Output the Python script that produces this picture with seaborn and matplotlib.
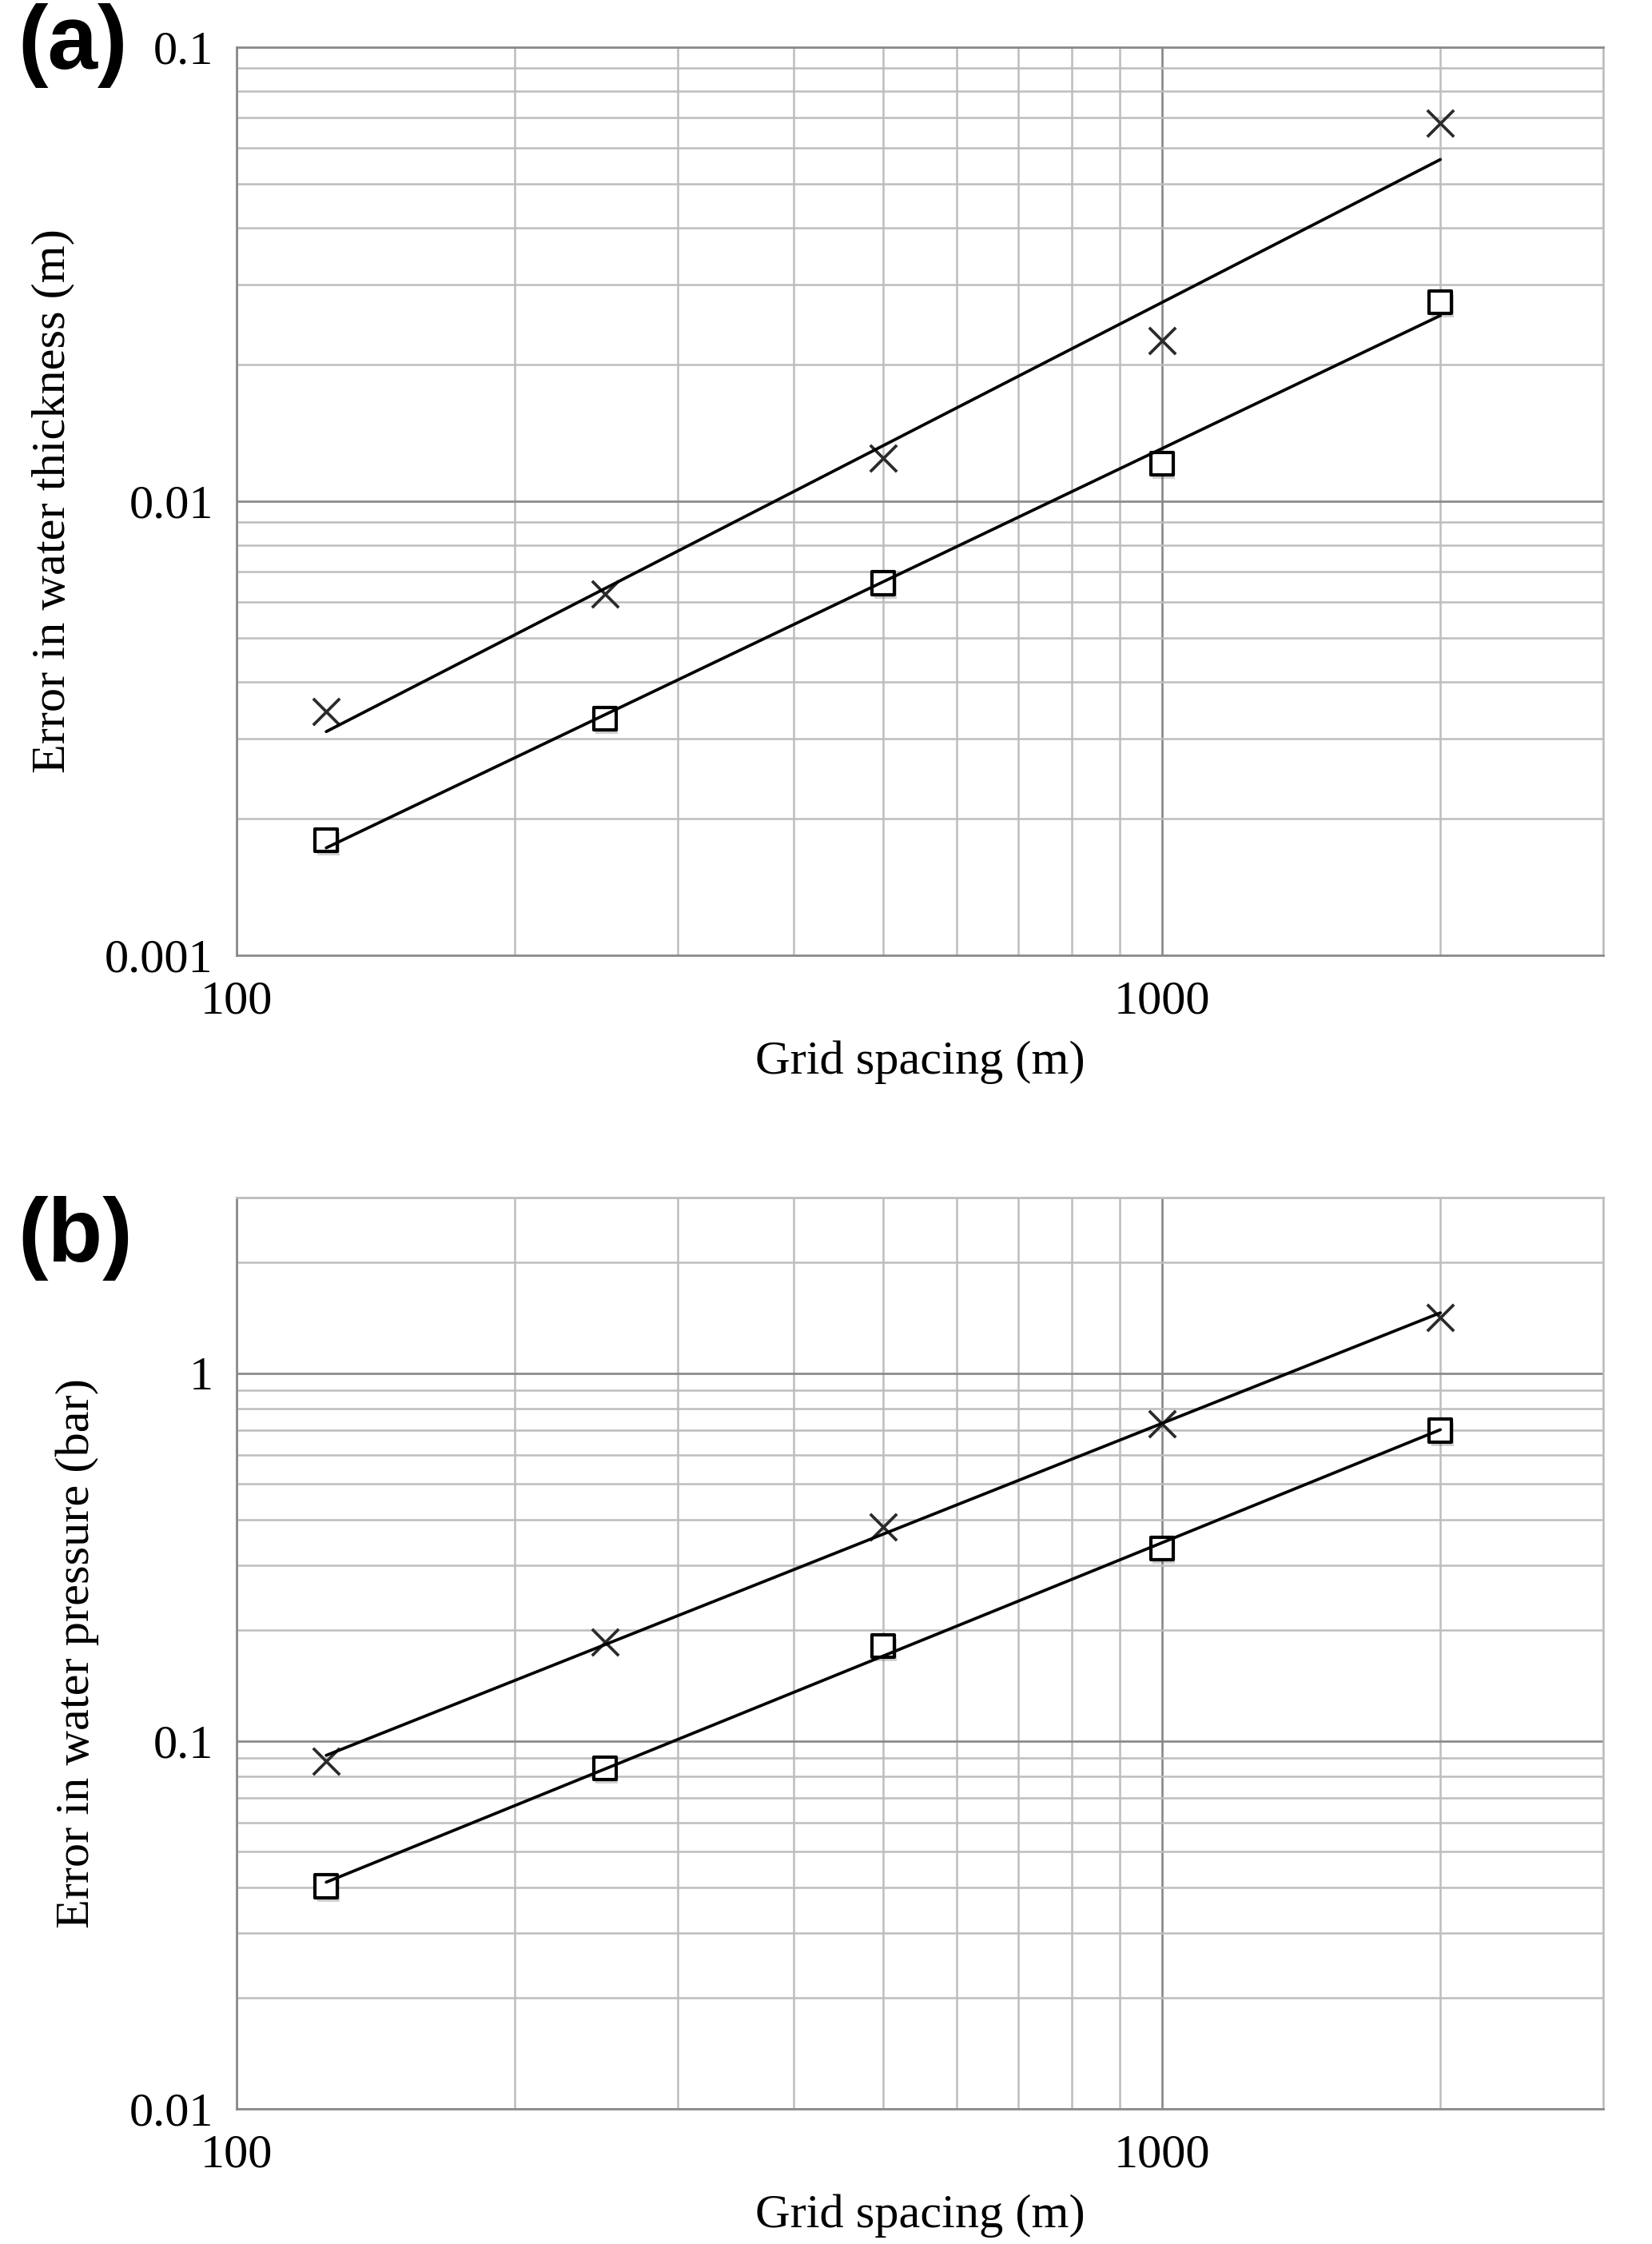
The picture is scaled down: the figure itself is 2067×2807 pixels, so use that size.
import numpy as np
import pandas as pd
import matplotlib
matplotlib.use("Agg")
import matplotlib.pyplot as plt
import matplotlib.patheffects as pe
from matplotlib.ticker import LogLocator, NullFormatter
import seaborn as sns

# grid spacing (m)
grid_spacing = [125, 250, 500, 1000, 2000]

# (a) error in water thickness (m)
thick_cross = [0.00344, 0.00624, 0.01245, 0.02255, 0.0680]
thick_square = [0.00179, 0.00332, 0.00660, 0.01208, 0.0274]

# (b) error in water pressure (bar)
press_cross = [0.0882, 0.186, 0.382, 0.730, 1.42]
press_square = [0.0403, 0.0843, 0.181, 0.334, 0.698]

x_ticks = [100, 1000]
x_tick_labels = ["100", "1000"]
a_y_ticks = [0.001, 0.01, 0.1]
a_y_tick_labels = ["0.001", "0.01", "0.1"]
b_y_ticks = [0.01, 0.1, 1]
b_y_tick_labels = ["0.01", "0.1", "1"]

sns.set_style("white")
plt.rcParams["font.family"] = ["Liberation Serif", "DejaVu Serif"]
plt.rcParams["text.color"] = "black"
plt.rcParams["axes.labelcolor"] = "black"

MAJOR = "#8a8a8a"
MINOR = "#bdbdbd"


def power_fit(x, y):
    # least-squares trendline in log-log space, like the spreadsheet trendline
    k, c = np.polyfit(np.log10(x), np.log10(y), 1)
    return 10 ** (c + k * np.log10(np.asarray(x, dtype=float)))


def panel(ax, cross, square, ylim, yticks, ylabels, ylabel, top_major):
    df = pd.DataFrame({"x": grid_spacing, "cross": cross, "square": square})
    df["cross_fit"] = power_fit(df["x"], df["cross"])
    df["square_fit"] = power_fit(df["x"], df["square"])

    ax.set_xscale("log")
    ax.set_yscale("log")

    sns.scatterplot(data=df, x="x", y="cross", marker="x", s=64,
                    color="#2b2b2b", linewidth=0.9, ax=ax, zorder=3)
    sq = sns.scatterplot(data=df, x="x", y="square", marker="s", s=46,
                         facecolor="white", edgecolor="black", linewidth=1.0,
                         ax=ax, zorder=3)
    sq.collections[-1].set_path_effects(
        [pe.SimplePatchShadow(offset=(0.6, -1.2), alpha=0.25, shadow_rgbFace="0.3"),
         pe.Normal()])
    sns.lineplot(data=df, x="x", y="cross_fit", color="black", lw=0.9,
                 ax=ax, zorder=4)
    sns.lineplot(data=df, x="x", y="square_fit", color="black", lw=0.9,
                 ax=ax, zorder=4)

    ax.set_xlim(100, 3000)
    ax.set_ylim(*ylim)
    ax.set_xticks(x_ticks, x_tick_labels)
    ax.set_yticks(yticks, ylabels)
    ax.xaxis.set_minor_locator(LogLocator(base=10, subs=np.arange(2, 10)))
    ax.yaxis.set_minor_locator(LogLocator(base=10, subs=np.arange(2, 10)))
    ax.xaxis.set_minor_formatter(NullFormatter())
    ax.yaxis.set_minor_formatter(NullFormatter())

    ax.grid(which="major", color=MAJOR, lw=0.65)
    ax.grid(which="minor", color=MINOR, lw=0.6)
    ax.set_axisbelow(True)

    ax.tick_params(which="major", direction="out", length=3.5, width=0.65,
                   color=MAJOR, labelcolor="black", labelsize=14.5, pad=3.5)
    ax.tick_params(which="minor", length=0)
    ax.tick_params(axis="x", which="major", pad=4)

    for s in ["left", "bottom"]:
        ax.spines[s].set_color(MAJOR)
        ax.spines[s].set_linewidth(0.65)
    ax.spines["right"].set_color(MINOR)
    ax.spines["right"].set_linewidth(0.6)
    ax.spines["top"].set_color(MAJOR if top_major else MINOR)
    ax.spines["top"].set_linewidth(0.65)

    ax.set_xlabel("Grid spacing (m)", fontsize=14.5, labelpad=5)
    ax.set_ylabel(ylabel, fontsize=14.5, labelpad=9)


fig = plt.figure(figsize=(2067 / 300, 2807 / 300), dpi=300)
ax_a = fig.add_axes([0.1432, 0.5743, 0.8273, 0.4047])
ax_b = fig.add_axes([0.1432, 0.0602, 0.8273, 0.4061])

panel(ax_a, thick_cross, thick_square, (0.001, 0.1), a_y_ticks, a_y_tick_labels,
      "Error in water thickness (m)", True)
panel(ax_b, press_cross, press_square, (0.01, 3), b_y_ticks, b_y_tick_labels,
      "Error in water pressure (bar)", False)

fig.text(22 / 2067, 1 - 4 / 2807, "(a)", fontsize=27, fontweight="bold",
         color="black", family=["Liberation Sans", "DejaVu Sans"],
         ha="left", va="top")
fig.text(22 / 2067, 1 - 1496 / 2807, "(b)", fontsize=27, fontweight="bold",
         color="black", family=["Liberation Sans", "DejaVu Sans"],
         ha="left", va="top")

fig.savefig("out.png", dpi=300, facecolor="white")
